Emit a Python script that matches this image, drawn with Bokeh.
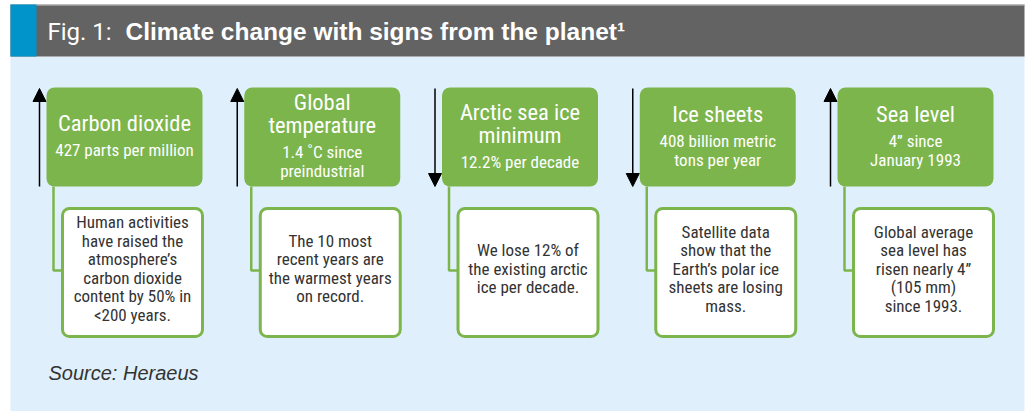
from bokeh.plotting import figure
from bokeh.models import Range1d, ColumnDataSource, Arrow, NormalHead
from bokeh.core.properties import value
from bokeh.embed import file_html
from bokeh.resources import INLINE

# ---- data ----
fig_label = "Fig. 1:"
fig_title = "Climate change with signs from the planet\u00b9"
source_note = "Source: Heraeus"
categories = ["Carbon dioxide", "Global\ntemperature", "Arctic sea ice\nminimum", "Ice sheets", "Sea level"]
values = ["427 parts per million", "1.4 \u02daC since\npreindustrial", "12.2% per decade",
          "408 billion metric\ntons per year", "4\u201d since\nJanuary 1993"]
trends = ["up", "up", "down", "down", "up"]
descriptions = [
    "Human activities\nhave raised the\natmosphere\u2019s\ncarbon dioxide\ncontent by 50% in\n<200 years.",
    "The 10 most\nrecent years are\nthe warmest years\non record.",
    "We lose 12% of\nthe existing arctic\nice per decade.",
    "Satellite data\nshow that the\nEarth\u2019s polar ice\nsheets are losing\nmass.",
    "Global average\nsea level has\nrisen nearly 4\u201d\n(105 mm)\nsince 1993.",
]

# ---- style ----
GREEN = "#7cb54c"
BG = "#dff0fc"
HEADER = "#636363"
BLUE = "#0094cb"
DARK = "#333333"
NARROW = value("'Liberation Sans Narrow', 'Roboto Condensed', Roboto, sans-serif")

W, H = 1027, 411
p = figure(width=W, height=H, x_range=Range1d(0, W), y_range=Range1d(H, 0),
           output_backend="svg", toolbar_location=None, x_axis_location=None,
           y_axis_location=None, min_border=0, outline_line_color=None,
           background_fill_color="white", border_fill_color="white")
p.grid.visible = False

# panel background
p.quad(left=[10], right=[1024], top=[56], bottom=[H], fill_color=BG, line_color=None)
p.quad(left=[10], right=[1024], top=[4], bottom=[56], fill_color=HEADER, line_color=None)
p.segment(x0=[10], x1=[1024], y0=[4.5], y1=[4.5], line_color="#c8c8c8", line_width=1)
p.quad(left=[10], right=[36], top=[4], bottom=[56], fill_color=BLUE, line_color=None)

# header text
p.text(x=[47], y=[31], text=[fig_label], text_color="white", text_font=value("Roboto"),
       text_font_size="24px", text_baseline="middle", text_font_style="normal")
p.text(x=[125], y=[31], text=[fig_title], text_color="white",
       text_font=value("Liberation Sans"), text_font_size="24.5px",
       text_baseline="middle", text_font_style="bold")

n = len(categories)
x0 = [46 + i * 197.75 for i in range(n)]
gw = 156
g_top, g_bot = 87, 186
w_top, w_bot = 208, 336

# green boxes
p.quad(left=x0, right=[x + gw for x in x0], top=[g_top] * n, bottom=[g_bot] * n,
       fill_color=GREEN, line_color=None, border_radius=8)
# connectors
for x in x0:
    p.line(x=[x + 7, x + 7, x + 16], y=[g_bot, 270, 270], line_color=GREEN, line_width=2.5)
# white boxes
p.quad(left=[x + 16 for x in x0], right=[x + gw for x in x0], top=[w_top] * n,
       bottom=[w_bot] * n, fill_color="white", line_color=GREEN, line_width=3,
       border_radius=7)

# arrows
for x, t in zip(x0, trends):
    ax = x - 7
    ys, ye = (g_bot, g_top + 1) if t == "up" else (g_top + 1, g_bot)
    p.add_layout(Arrow(end=NormalHead(size=13, fill_color="black", line_color="black"),
                       x_start=ax, y_start=ys, x_end=ax, y_end=ye,
                       line_color="black", line_width=1.5))

# green box texts
tx, ty, tt, ts = [], [], [], []
for x, cat, val in zip(x0, categories, values):
    cl = cat.split("\n")
    vl = val.split("\n")
    offs = []
    y = 0
    for k, s in enumerate(cl):
        if k > 0:
            y += 23
        offs.append((y, s, "22.5px"))
    for k, s in enumerate(vl):
        y += 27 if k == 0 else 19
        offs.append((y, s, "17px"))
    mid = y / 2
    for o, s, sz in offs:
        tx.append(x + gw / 2)
        ty.append(136 - mid + o)
        tt.append(s)
        ts.append(sz)
p.text(x="x", y="y", text="t", text_font_size="s",
       source=ColumnDataSource(dict(x=tx, y=ty, t=tt, s=ts)),
       text_color="white", text_font=NARROW, text_align="center", text_baseline="middle")

# description texts
dx, dy, dt = [], [], []
for x, d in zip(x0, descriptions):
    dl = d.split("\n")
    m = (len(dl) - 1) / 2
    for k, s in enumerate(dl):
        dx.append(x + 16 + (gw - 16) / 2)
        dy.append(268 + (k - m) * 18.5)
        dt.append(s)
p.text(x="x", y="y", text="t", source=ColumnDataSource(dict(x=dx, y=dy, t=dt)),
       text_color=DARK, text_font=NARROW, text_font_size="17px",
       text_align="center", text_baseline="middle")

# source
p.text(x=[48], y=[372], text=[source_note], text_color=DARK,
       text_font=value("Liberation Sans"), text_font_style="italic",
       text_font_size="20px", text_baseline="middle")

open("out.html", "w").write(file_html(p, INLINE))
